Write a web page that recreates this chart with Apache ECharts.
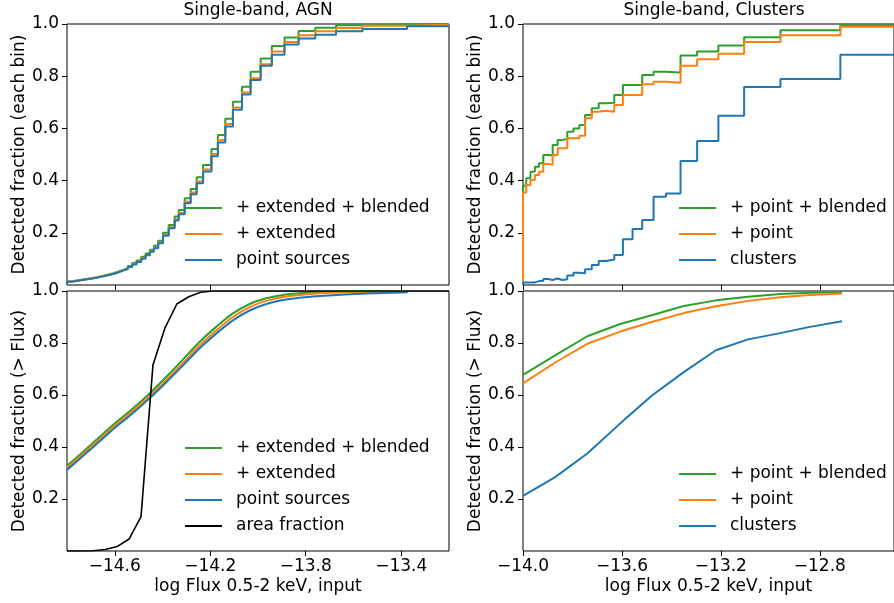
<!DOCTYPE html>
<html>
<head>
<meta charset="utf-8">
<script src="https://cdn.jsdelivr.net/npm/echarts@6/dist/echarts.min.js"></script>
<style>
  html, body { margin: 0; padding: 0; background: #fff; }
  #chart { width: 894px; height: 603px; }
</style>
</head>
<body>
<div id="chart"></div>
<script>
// ---- AGN, detected fraction in each flux bin (log flux bin edges) ----
const agnBinEdges = [-14.80, -14.78, -14.76, -14.74, -14.72, -14.70, -14.675, -14.655, -14.632, -14.606,
  -14.586, -14.565, -14.545, -14.527, -14.509, -14.489, -14.471, -14.453, -14.436, -14.418,
  -14.398, -14.374, -14.349, -14.332, -14.307, -14.282, -14.257, -14.230, -14.195, -14.168,
  -14.137, -14.105, -14.067, -14.031, -13.989, -13.942, -13.889, -13.830, -13.760, -13.673,
  -13.562, -13.376, -13.200];
const agnBinBlended = [0.014, 0.017, 0.020, 0.023, 0.026, 0.030, 0.034, 0.039, 0.045, 0.051,
  0.058, 0.065, 0.073, 0.084, 0.094, 0.108, 0.121, 0.135, 0.150, 0.170,
  0.200, 0.230, 0.262, 0.287, 0.332, 0.368, 0.413, 0.460, 0.521, 0.575,
  0.637, 0.702, 0.760, 0.817, 0.868, 0.916, 0.948, 0.973, 0.986, 0.995,
  0.998, 0.999];
const agnBinExtended = [0.013, 0.016, 0.019, 0.022, 0.025, 0.029, 0.033, 0.037, 0.043, 0.049,
  0.056, 0.062, 0.070, 0.080, 0.090, 0.103, 0.115, 0.129, 0.143, 0.162,
  0.192, 0.221, 0.252, 0.276, 0.319, 0.354, 0.397, 0.443, 0.502, 0.555,
  0.617, 0.680, 0.738, 0.792, 0.846, 0.895, 0.931, 0.957, 0.972, 0.985,
  0.993, 0.997];
const agnBinPoint = [0.012, 0.015, 0.018, 0.021, 0.024, 0.028, 0.032, 0.036, 0.042, 0.048,
  0.055, 0.061, 0.069, 0.079, 0.088, 0.101, 0.114, 0.127, 0.141, 0.160,
  0.189, 0.217, 0.247, 0.271, 0.313, 0.348, 0.390, 0.435, 0.493, 0.546,
  0.607, 0.671, 0.730, 0.785, 0.840, 0.882, 0.921, 0.944, 0.959, 0.972,
  0.981, 0.991];

// ---- AGN, cumulative detected fraction above flux ----
const agnCumFlux = [-14.800, -14.732, -14.662, -14.599, -14.523, -14.453, -14.383, -14.314, -14.244, -14.174,
  -14.105, -14.035, -13.965, -13.896, -13.826, -13.756, -13.687, -13.547, -13.373];
const agnCumBlended = [0.328, 0.382, 0.440, 0.491, 0.549, 0.607, 0.671, 0.737, 0.805, 0.863,
  0.914, 0.950, 0.972, 0.985, 0.991, 0.995, 0.997, 0.999, 0.9995];
const agnCumExtended = [0.320, 0.374, 0.431, 0.482, 0.539, 0.596, 0.659, 0.724, 0.791, 0.849,
  0.900, 0.938, 0.962, 0.977, 0.985, 0.990, 0.993, 0.996, 0.997];
const agnCumPoint = [0.312, 0.366, 0.423, 0.474, 0.531, 0.588, 0.650, 0.714, 0.780, 0.837,
  0.887, 0.925, 0.950, 0.965, 0.974, 0.980, 0.984, 0.990, 0.995];

// ---- survey area fraction reaching each flux ----
const areaFlux = [-14.8, -14.74, -14.69, -14.64, -14.59, -14.54, -14.49, -14.44, -14.39, -14.34, -14.29, -14.24, -14.19, -13.2];
const areaFrac = [0.000, 0.000, 0.001, 0.006, 0.017, 0.046, 0.132, 0.715, 0.857, 0.950, 0.978, 0.995, 1.000, 1.000];

// ---- Clusters, detected fraction in each flux bin ----
const clBinEdges = [-14.000, -13.987, -13.970, -13.952, -13.935, -13.918, -13.898, -13.880, -13.860, -13.841,
  -13.821, -13.796, -13.772, -13.749, -13.722, -13.694, -13.664, -13.631, -13.596, -13.557,
  -13.518, -13.472, -13.422, -13.363, -13.296, -13.210, -13.106, -12.959, -12.717, -12.450];
const clBinBlended = [0.380, 0.409, 0.434, 0.453, 0.466, 0.498, 0.496, 0.536, 0.556, 0.559,
  0.587, 0.600, 0.613, 0.651, 0.677, 0.696, 0.698, 0.728, 0.766, 0.766,
  0.805, 0.817, 0.814, 0.879, 0.895, 0.918, 0.949, 0.976, 0.995];
const clBinPoint = [0.354, 0.383, 0.402, 0.421, 0.434, 0.464, 0.460, 0.498, 0.524, 0.524,
  0.562, 0.562, 0.572, 0.639, 0.664, 0.668, 0.664, 0.690, 0.728, 0.728,
  0.769, 0.779, 0.775, 0.840, 0.865, 0.886, 0.931, 0.957, 0.989];
const clBinClusters = [0.010, 0.010, 0.010, 0.015, 0.015, 0.023, 0.019, 0.025, 0.019, 0.022,
  0.036, 0.047, 0.045, 0.060, 0.077, 0.092, 0.098, 0.115, 0.175, 0.215,
  0.249, 0.338, 0.351, 0.475, 0.552, 0.648, 0.759, 0.789, 0.882];

// ---- Clusters, cumulative detected fraction above flux ----
const clCumFlux = [-14.0, -13.87, -13.74, -13.61, -13.48, -13.35, -13.22, -13.09, -12.96, -12.84, -12.71];
const clCumBlended = [0.677, 0.752, 0.826, 0.872, 0.907, 0.942, 0.964, 0.978, 0.988, 0.993, 0.995];
const clCumPoint = [0.645, 0.725, 0.797, 0.843, 0.881, 0.915, 0.941, 0.962, 0.976, 0.985, 0.990];
const clCumClusters = [0.212, 0.284, 0.375, 0.488, 0.597, 0.688, 0.772, 0.814, 0.838, 0.862, 0.884];

// ---- axis ticks ----
const agnFluxTicks = [-14.6, -14.2, -13.8, -13.4];
const clFluxTicks = [-14.0, -13.6, -13.2, -12.8];
const fracTicks = [0.2, 0.4, 0.6, 0.8, 1.0];

const FONT = 'DejaVu Sans';
const FS = 17;
const GREEN = '#2ca02c', ORANGE = '#ff7f0e', BLUE = '#1f77b4', BLACK = '#000000';

const fmtFlux = v => (v < 0 ? '\u2212' : '') + Math.abs(v).toFixed(1);
const textStyle = { fontFamily: FONT, fontSize: FS, color: '#000' };

// histogram outline: rises from zero at the first edge, then one level per bin
function stepPoints(edges, vals) {
  const pts = [[edges[0], 0]];
  edges.forEach((e, i) => pts.push([e, vals[Math.min(i, vals.length - 1)]]));
  return pts;
}
const zip = (xs, ys) => xs.map((x, i) => [x, ys[i]]);

const gridBoxes = [
  { left: 67, top: 24, width: 382, height: 261 },
  { left: 67, top: 291, width: 382, height: 260 },
  { left: 523, top: 24, width: 382, height: 261 },
  { left: 523, top: 291, width: 382, height: 260 }
].map(g => Object.assign({ show: true, borderColor: '#000', borderWidth: 1, backgroundColor: 'transparent', containLabel: false }, g));

function makeX(idx, min, max, ticks, labelled) {
  return {
    type: 'value', gridIndex: idx, min: min, max: max,
    axisLine: { show: false }, splitLine: { show: false },
    axisTick: { show: true, inside: false, length: 5, customValues: ticks, lineStyle: { color: '#000', width: 1 } },
    axisLabel: { show: labelled, customValues: ticks, formatter: fmtFlux, margin: 7, ...textStyle },
    name: labelled ? 'log Flux 0.5-2 keV, input' : '',
    nameLocation: 'middle', nameGap: 27, nameTextStyle: textStyle
  };
}
function makeY(idx, title) {
  return {
    type: 'value', gridIndex: idx, min: 0, max: 1,
    axisLine: { show: false }, splitLine: { show: false },
    axisTick: { show: true, inside: false, length: 5, customValues: fracTicks, lineStyle: { color: '#000', width: 1 } },
    axisLabel: { customValues: fracTicks, formatter: v => v.toFixed(1), margin: 8, ...textStyle },
    name: title, nameLocation: 'middle', nameGap: 39, nameRotate: 90, nameTextStyle: textStyle
  };
}
function lineSeries(name, color, idx, data, opts) {
  opts = opts || {};
  return {
    type: 'line', name: name, xAxisIndex: idx, yAxisIndex: idx, data: data,
    step: opts.step ? 'end' : false, showSymbol: false, symbol: 'none',
    smooth: opts.smooth || false,
    clip: true, animation: false,
    lineStyle: { color: color, width: opts.width || 2 }, itemStyle: { color: color }
  };
}
function makeLegend(names, left, top) {
  return {
    data: names, orient: 'vertical', left: left, top: top, padding: 0,
    icon: 'rect', itemWidth: 37, itemHeight: 2, itemGap: 6,
    selectedMode: false,
    textStyle: { ...textStyle, lineHeight: 20, padding: [0, 0, 0, 9] }
  };
}

const agnNames = ['+ extended + blended', '+ extended', 'point sources'];
const clNames = ['+ point + blended', '+ point', 'clusters'];
const STEP = { step: true };
const SMOOTH = { smooth: 0.3 };

const option = {
  backgroundColor: '#ffffff',
  animation: false,
  title: [
    { text: 'Single-band, AGN', left: 258, top: 2, textAlign: 'center', padding: 0,
      textStyle: { ...textStyle, fontWeight: 'normal' } },
    { text: 'Single-band, Clusters', left: 714, top: 2, textAlign: 'center', padding: 0,
      textStyle: { ...textStyle, fontWeight: 'normal' } }
  ],
  grid: gridBoxes,
  xAxis: [
    makeX(0, -14.8, -13.2, agnFluxTicks, false),
    makeX(1, -14.8, -13.2, agnFluxTicks, true),
    makeX(2, -14.0, -12.5, clFluxTicks, false),
    makeX(3, -14.0, -12.5, clFluxTicks, true)
  ],
  yAxis: [
    makeY(0, 'Detected fraction (each bin)'),
    makeY(1, 'Detected fraction (> Flux)'),
    makeY(2, 'Detected fraction (each bin)'),
    makeY(3, 'Detected fraction (> Flux)')
  ],
  legend: [
    makeLegend(agnNames, 185, 198),
    makeLegend(agnNames.concat(['area fraction']), 185, 438),
    makeLegend(clNames, 679, 198),
    makeLegend(clNames, 679, 464)
  ],
  series: [
    lineSeries(agnNames[0], GREEN, 0, stepPoints(agnBinEdges, agnBinBlended), STEP),
    lineSeries(agnNames[1], ORANGE, 0, stepPoints(agnBinEdges, agnBinExtended), STEP),
    lineSeries(agnNames[2], BLUE, 0, stepPoints(agnBinEdges, agnBinPoint), STEP),

    lineSeries(agnNames[0], GREEN, 1, zip(agnCumFlux, agnCumBlended), SMOOTH),
    lineSeries(agnNames[1], ORANGE, 1, zip(agnCumFlux, agnCumExtended), SMOOTH),
    lineSeries(agnNames[2], BLUE, 1, zip(agnCumFlux, agnCumPoint), SMOOTH),
    lineSeries('area fraction', BLACK, 1, zip(areaFlux, areaFrac), { width: 1.6 }),

    lineSeries(clNames[0], GREEN, 2, stepPoints(clBinEdges, clBinBlended), STEP),
    lineSeries(clNames[1], ORANGE, 2, stepPoints(clBinEdges, clBinPoint), STEP),
    lineSeries(clNames[2], BLUE, 2, stepPoints(clBinEdges, clBinClusters), STEP),

    lineSeries(clNames[0], GREEN, 3, zip(clCumFlux, clCumBlended)),
    lineSeries(clNames[1], ORANGE, 3, zip(clCumFlux, clCumPoint)),
    lineSeries(clNames[2], BLUE, 3, zip(clCumFlux, clCumClusters))
  ]
};

const chart = echarts.init(document.getElementById('chart'), null, { renderer: 'canvas' });
chart.setOption(option);
</script>
</body>
</html>
